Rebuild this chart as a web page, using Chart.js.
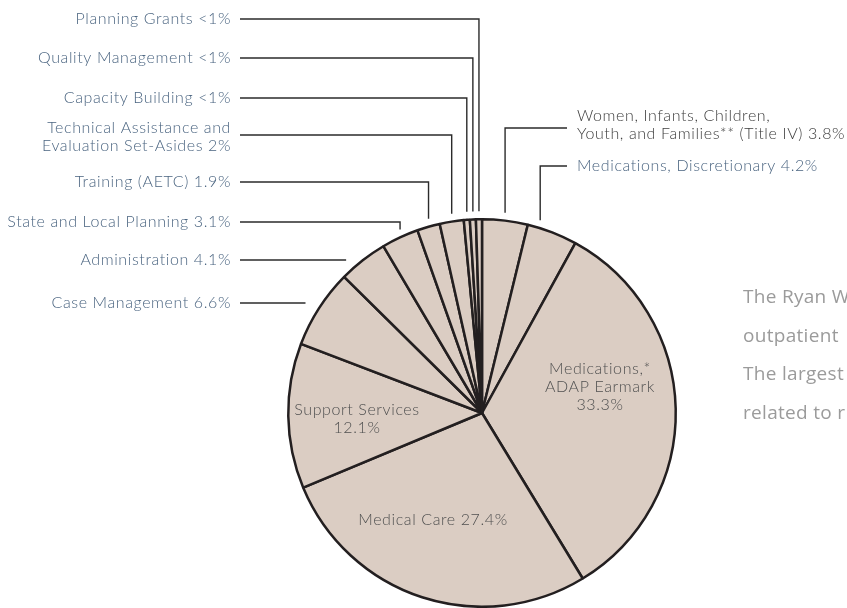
<!DOCTYPE html>
<html>
<head>
<meta charset="utf-8">
<script src="https://cdn.jsdelivr.net/npm/chart.js@4"></script>
<style>
  body { margin: 0; background: #fff; }
  #wrap { width: 847px; height: 608px; }
</style>
</head>
<body>
<div id="wrap"><canvas id="pie" width="847" height="608"></canvas></div>
<script>
// slices, clockwise from 12 o'clock
var categories = ['Women, Infants, Children,\nYouth, and Families** (Title IV)', 'Medications, Discretionary',
  'Medications,*\nADAP Earmark', 'Medical Care', 'Support Services', 'Case Management', 'Administration',
  'State and Local Planning', 'Training (AETC)', 'Technical Assistance and\nEvaluation Set-Asides',
  'Capacity Building', 'Quality Management', 'Planning Grants'];
var values = [3.8, 4.2, 33.3, 27.4, 12.1, 6.6, 4.1, 3.1, 1.9, 2, 0.5, 0.5, 0.5];
var shares = ['3.8%', '4.2%', '33.3%', '27.4%', '12.1%', '6.6%', '4.1%', '3.1%', '1.9%', '2%', '<1%', '<1%', '<1%'];
var sideText = ['The Ryan W', 'outpatient', 'The largest', 'related to r'];

var FONT = '300 16px Lato, "Open Sans", sans-serif';
var BLUE = '#4b6581';

// outside labels: which slice, label y, side
var outside = [
  {i: 12, y: 19, side: 'L'},
  {i: 11, y: 58, side: 'L'},
  {i: 10, y: 98, side: 'L'},
  {i: 9, y: 135, side: 'L', textY: 128},
  {i: 8, y: 182, side: 'L'},
  {i: 7, y: 222, side: 'L'},
  {i: 6, y: 260, side: 'L', straight: true},
  {i: 5, y: 303, side: 'L', straight: true},
  {i: 0, y: 128, side: 'R', textY: 116, color: '#3d3d3d'},
  {i: 1, y: 166, side: 'R'}
];
var inside = [
  {i: 2, x: 600, y: 369, sep: '\n'},
  {i: 4, x: 357, y: 410, sep: '\n'},
  {i: 3, x: 433, y: 520, sep: ' '}
];

var labelPlugin = {
  id: 'labels',
  afterDatasetsDraw: function(chart) {
    var ctx = chart.ctx;
    var meta = chart.getDatasetMeta(0);
    ctx.save();
    ctx.font = FONT;
    ctx.letterSpacing = '0.6px';
    ctx.textBaseline = 'middle';
    ctx.lineWidth = 1.4;
    ctx.strokeStyle = '#2b2b2b';
    outside.forEach(function(o) {
      var arc = meta.data[o.i];
      var cx = arc.x, cy = arc.y, r = arc.outerRadius;
      var mid = (arc.startAngle + arc.endAngle) / 2;
      var mx = cx + r * Math.cos(mid);
      var lines = (categories[o.i] + ' ' + shares[o.i]).split('\n');
      ctx.beginPath();
      if (o.side == 'L') {
        ctx.moveTo(240, o.y);
        if (o.straight) {
          var ex = cx - Math.sqrt(r * r - (o.y - cy) * (o.y - cy)) - 17;
          ctx.lineTo(ex, o.y);
        } else {
          var ey = cy - Math.sqrt(r * r - (mx - cx) * (mx - cx)) - 8;
          ctx.lineTo(mx, o.y);
          ctx.lineTo(mx, ey);
        }
      } else {
        var vx = o.i == 1 ? mx - 12 : mx;
        var ey2 = cy - Math.sqrt(r * r - (vx - cx) * (vx - cx)) - 8;
        ctx.moveTo(567, o.y);
        ctx.lineTo(vx, o.y);
        ctx.lineTo(vx, ey2);
      }
      ctx.stroke();
      ctx.fillStyle = o.color || BLUE;
      ctx.textAlign = o.side == 'L' ? 'right' : 'left';
      var tx = o.side == 'L' ? 231 : 577;
      var ty = o.textY || o.y;
      lines.forEach(function(t, k) { ctx.fillText(t, tx, ty + k * 18); });
    });
    ctx.fillStyle = '#505050';
    ctx.textAlign = 'center';
    inside.forEach(function(o) {
      var lines = (categories[o.i] + o.sep + shares[o.i]).split('\n');
      lines.forEach(function(t, k) { ctx.fillText(t, o.x, o.y + k * 18); });
    });
    ctx.fillStyle = '#9b9b9b';
    ctx.textAlign = 'left';
    ctx.letterSpacing = '0.3px';
    ctx.font = '19px "Open Sans", sans-serif';
    sideText.forEach(function(t, k) { ctx.fillText(t, 743, 298 + k * 38.5); });
    ctx.restore();
  }
};

new Chart(document.getElementById('pie'), {
  type: 'pie',
  data: {
    labels: categories,
    datasets: [{
      data: values,
      backgroundColor: '#dbcdc3',
      borderColor: '#231f20',
      borderWidth: 2.5,
      borderAlign: 'center'
    }]
  },
  options: {
    responsive: false,
    animation: false,
    layout: { padding: { top: 218, bottom: 0, left: 280, right: 163 } },
    plugins: { legend: { display: false }, tooltip: { enabled: false } }
  },
  plugins: [labelPlugin]
});
</script>
</body>
</html>
